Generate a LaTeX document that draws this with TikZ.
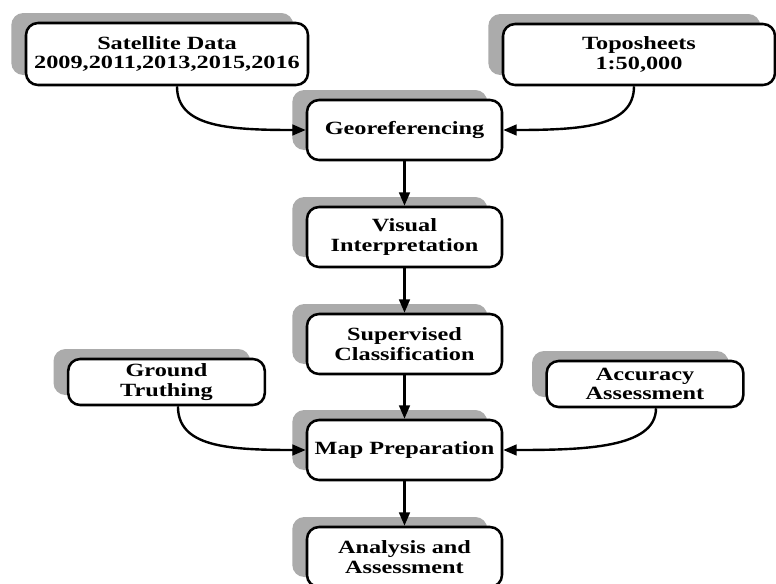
\documentclass[tikz,border=0pt]{standalone}
\usepackage{fontspec}
\setmainfont{Liberation Serif}[FakeStretch=1.3]
\usetikzlibrary{arrows.meta,shadows}
\begin{document}
\begin{tikzpicture}[x=0.75pt,y=-0.75pt,
  box/.style={draw, line width=1.9pt, rounded corners=9pt, fill=white, align=center, inner sep=0pt,
    font=\fontsize{14}{14.5}\selectfont\bfseries,
    general shadow={fill=black!33, shadow xshift=-11pt, shadow yshift=7.5pt}},
  bigbox/.style={box, minimum width=146.25pt, minimum height=45pt},
  smallbox/.style={box, minimum width=147.5pt, minimum height=34.5pt},
  arr/.style={line width=1.8pt, -{Triangle[length=10pt,width=8pt]}}]
\useasboundingbox (0,0) rectangle (776,583);

\node[box, minimum width=211.5pt, minimum height=46.5pt] (sat) at (167,54) {Satellite Data\\2009,2011,2013,2015,2016};
\node[box, minimum width=204pt, minimum height=45.75pt] (topo) at (639,54.5) {Toposheets\\1:50,000};
\node[bigbox] (geo) at (404.5,130) {Georeferencing};
\node[bigbox] (vis) at (404.5,237) {Visual\\Interpretation};
\node[bigbox] (sup) at (404.5,344) {Supervised\\Classification};
\node[bigbox] (map) at (404.5,450) {Map Preparation};
\node[bigbox] (ana) at (404.5,557) {Analysis and\\Assessment};
\node[smallbox] (gt) at (166.5,382) {Ground\\Truthing};
\node[smallbox] (acc) at (645,384) {Accuracy\\Assessment};

\draw[arr] (geo.south) -- (vis.north);
\draw[arr] (vis.south) -- (sup.north);
\draw[arr] (sup.south) -- (map.north);
\draw[arr] (map.south) -- (ana.north);

\draw[arr] ([xshift=7.5pt]sat.south) .. controls ([xshift=7.5pt,yshift=-30pt]sat.south) and ([xshift=-60pt]geo.west) .. (geo.west);
\draw[arr] ([xshift=-3.75pt]topo.south) .. controls ([xshift=-3.75pt,yshift=-30pt]topo.south) and ([xshift=60pt]geo.east) .. (geo.east);
\draw[arr] ([xshift=8.6pt]gt.south) .. controls ([xshift=8.6pt,yshift=-30pt]gt.south) and ([xshift=-60pt]map.west) .. (map.west);
\draw[arr] ([xshift=8.25pt]acc.south) .. controls ([xshift=8.25pt,yshift=-30pt]acc.south) and ([xshift=60pt]map.east) .. (map.east);
\end{tikzpicture}
\end{document}
